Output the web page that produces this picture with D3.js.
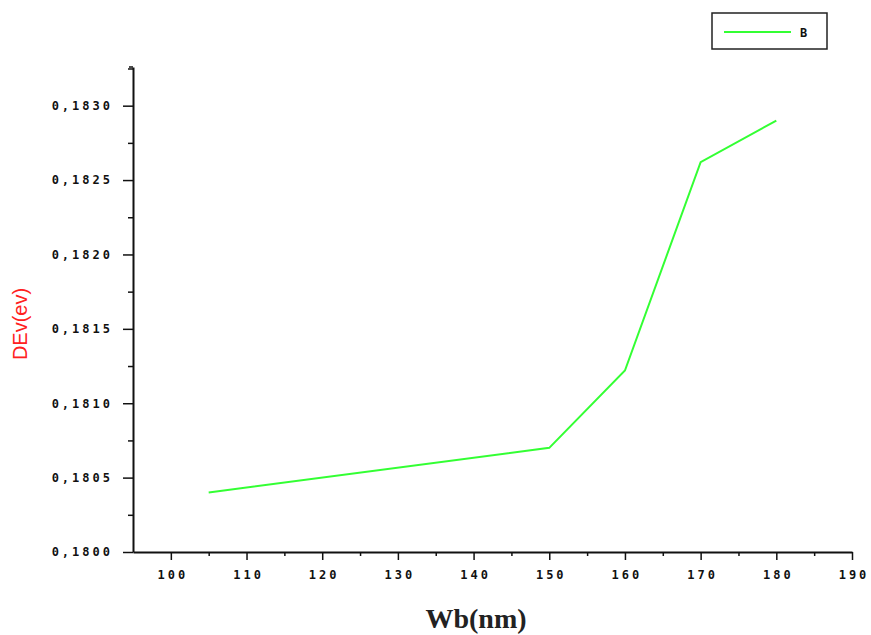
<!DOCTYPE html>
<html>
<head>
<meta charset="utf-8">
<script src="https://cdn.jsdelivr.net/npm/d3@7"></script>
<style>
  body { margin: 0; background: #fff; }
  .tick text { font-family: "DejaVu Sans Mono", monospace; font-weight: bold; font-size: 12px; letter-spacing: 3px; fill: #111; }
</style>
</head>
<body>
<div id="chart"></div>
<script>
const wb_values = [105, 150, 160, 170, 180];
const dev_values = [0.18040, 0.18070, 0.18122, 0.18262, 0.18290];
const x_ticks = [100, 110, 120, 130, 140, 150, 160, 170, 180, 190];
const y_ticks = [0.1800, 0.1805, 0.1810, 0.1815, 0.1820, 0.1825, 0.1830];
const series_name = "B";

const width = 871, height = 635;
const margin = {top: 67, right: 19, bottom: 83, left: 133};

const svg = d3.select("#chart").append("svg")
    .attr("width", width)
    .attr("height", height);

const x = d3.scaleLinear()
    .domain([95, 190])
    .range([margin.left, width - margin.right]);
const y = d3.scaleLinear()
    .domain([0.1800, 0.18326])
    .range([height - margin.bottom, margin.top]);

const fmt = function(d) { return d3.format(".4f")(d).replace(".", ","); };

// minor ticks first
svg.append("g")
    .attr("transform", "translate(0," + y.range()[0] + ")")
    .call(d3.axisBottom(x).tickValues(d3.range(105, 190, 10)).tickSize(4).tickFormat(""))
    .call(g => g.select(".domain").remove())
    .call(g => g.selectAll("line").attr("stroke", "#111").attr("stroke-width", 1.5));
svg.append("g")
    .attr("transform", "translate(" + x.range()[0] + ",0)")
    .call(d3.axisLeft(y).tickValues(d3.range(0.18025, 0.1833, 0.0005)).tickSize(5).tickFormat(""))
    .call(g => g.select(".domain").remove())
    .call(g => g.selectAll("line").attr("stroke", "#111").attr("stroke-width", 1.5));

// major axes
svg.append("g")
    .attr("transform", "translate(0," + y.range()[0] + ")")
    .call(d3.axisBottom(x).tickValues(x_ticks).tickSize(8).tickSizeOuter(0).tickPadding(10))
    .call(g => g.select(".domain").attr("stroke", "#111").attr("stroke-width", 2))
    .call(g => g.selectAll("line").attr("stroke", "#111").attr("stroke-width", 1.5))
    .call(g => g.selectAll("text").attr("dx", "1.5px"));

svg.append("g")
    .attr("transform", "translate(" + x.range()[0] + ",0)")
    .call(d3.axisLeft(y).tickValues(y_ticks).tickSize(10).tickSizeOuter(0).tickPadding(10).tickFormat(fmt))
    .call(g => g.select(".domain").attr("stroke", "#111").attr("stroke-width", 2))
    .call(g => g.selectAll("line").attr("stroke", "#111").attr("stroke-width", 1.5));

// small tick at top of y axis
svg.append("line")
    .attr("x1", x.range()[0] - 4).attr("x2", x.range()[0])
    .attr("y1", margin.top).attr("y2", margin.top)
    .attr("stroke", "#111").attr("stroke-width", 1.5);

// data line
const line = d3.line()
    .x(function(d, i) { return x(wb_values[i]); })
    .y(function(d) { return y(d); });

svg.append("path")
    .datum(dev_values)
    .attr("fill", "none")
    .attr("stroke", "#33ff33")
    .attr("stroke-width", 2)
    .attr("d", line);

// legend
const legend = svg.append("g").attr("transform", "translate(712,13)");
legend.append("rect")
    .attr("width", 115).attr("height", 36)
    .attr("fill", "#fff").attr("stroke", "#222").attr("stroke-width", 1.5);
legend.append("line")
    .attr("x1", 12).attr("x2", 79).attr("y1", 19).attr("y2", 19)
    .attr("stroke", "#33ff33").attr("stroke-width", 2);
legend.append("text")
    .attr("x", 88).attr("y", 24)
    .attr("font-family", "DejaVu Sans Mono, monospace")
    .attr("font-weight", "bold")
    .attr("font-size", 12)
    .attr("fill", "#111")
    .text(series_name);

// axis titles
svg.append("text")
    .attr("transform", "translate(27,324) rotate(-90)")
    .attr("text-anchor", "middle")
    .attr("font-family", "Liberation Sans, Arial, sans-serif")
    .attr("font-size", 20)
    .attr("fill", "#ff2020")
    .text("DEv(ev)");

svg.append("text")
    .attr("x", 476).attr("y", 628)
    .attr("text-anchor", "middle")
    .attr("font-family", "Liberation Serif, Times New Roman, serif")
    .attr("font-weight", "bold")
    .attr("font-size", 28)
    .attr("fill", "#222")
    .text("Wb(nm)");
</script>
</body>
</html>
